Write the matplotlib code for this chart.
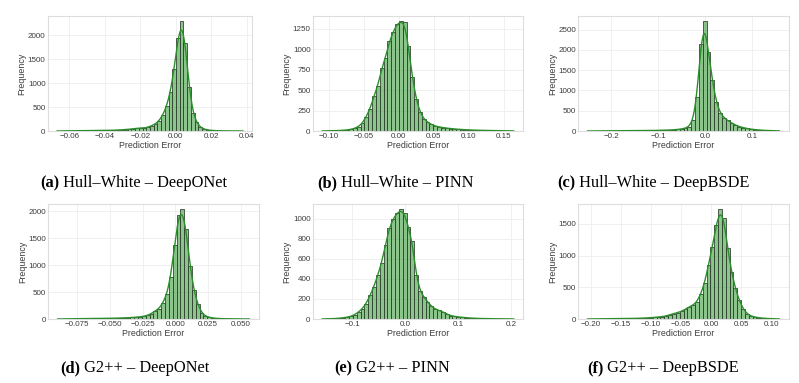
import numpy as np
import matplotlib
matplotlib.use("Agg")
import matplotlib.pyplot as plt

# ---------------- data (bin ranges + counts) ----------------
a_range = (-0.067, 0.038)
a_counts = [1, 2, 2, 3, 3, 4, 4, 5, 6, 7, 8, 9, 10, 12, 14, 17, 20, 25, 30, 38,
            45, 55, 65, 60, 80, 112, 148, 218, 338, 520, 816, 1290, 1945, 2283, 1839,
            922, 380, 183, 77, 40, 22, 12, 7, 5, 3, 2, 2, 1, 1, 1]
a_xticks = [-0.06, -0.04, -0.02, 0.00, 0.02, 0.04]
a_yticks = [0, 500, 1000, 1500, 2000]

b_range = (-0.1095, 0.164)
b_counts = [1, 2, 3, 4, 6, 9, 13, 20, 33, 54, 95, 177, 272, 425, 549, 767, 891, 1097,
            1209, 1310, 1340, 1330, 1040, 660, 390, 230, 150, 105, 80, 60, 50, 42, 35,
            30, 25, 21, 18, 15, 13, 11, 9, 8, 7, 6, 5, 4, 3, 3, 2, 2]
b_xticks = [-0.10, -0.05, 0.00, 0.05, 0.10, 0.15]
b_yticks = [0, 250, 500, 750, 1000, 1250]

c_range = (-0.25, 0.158)
c_counts = [1, 1, 2, 2, 2, 3, 3, 4, 5, 5, 6, 7, 8, 9, 10, 11, 12, 14, 16, 18,
            21, 25, 30, 38, 50, 70, 110, 260, 830, 2150, 2700, 1950, 1250, 720, 450,
            330, 260, 200, 150, 110, 85, 62, 46, 35, 26, 19, 14, 10, 7, 5]
c_xticks = [-0.2, -0.1, 0.0, 0.1]
c_yticks = [0, 500, 1000, 1500, 2000, 2500]

d_range = (-0.090, 0.0565)
d_counts = [1, 2, 2, 3, 4, 4, 5, 6, 7, 8, 9, 10, 11, 12, 14, 16, 18, 21, 24, 28,
            33, 40, 50, 69, 100, 156, 193, 305, 455, 785, 1377, 1925, 2032, 1676, 984,
            536, 274, 118, 56, 31, 18, 11, 7, 5, 4, 3, 2, 2, 1, 1]
d_xticks = [-0.075, -0.050, -0.025, 0.000, 0.025, 0.050]
d_yticks = [0, 500, 1000, 1500, 2000]

e_range = (-0.157, 0.205)
e_counts = [1, 2, 3, 5, 8, 12, 18, 27, 43, 70, 104, 154, 237, 321, 438, 555, 739, 906,
            1000, 1050, 1090, 1050, 913, 773, 438, 278, 221, 171, 127, 97, 87, 70, 50,
            33, 27, 20, 17, 13, 10, 8, 6, 5, 4, 3, 3, 2, 2, 1, 1, 1]
e_xticks = [-0.1, 0.0, 0.1, 0.2]
e_yticks = [0, 200, 400, 600, 800, 1000]

f_range = (-0.2057, 0.114)
f_counts = [1, 1, 2, 2, 3, 3, 4, 5, 6, 7, 8, 9, 10, 12, 14, 17, 21, 26, 32, 37,
            48, 69, 85, 101, 122, 154, 191, 217, 270, 392, 562, 853, 1129, 1478, 1728,
            1600, 1118, 747, 482, 297, 164, 85, 48, 32, 21, 14, 9, 6, 4, 2]
f_xticks = [-0.20, -0.15, -0.10, -0.05, 0.00, 0.05, 0.10]
f_yticks = [0, 500, 1000, 1500]

captions = [("(a)", "Hull\u2013White \u2013 DeepONet"),
            ("(b)", "Hull\u2013White \u2013 PINN"),
            ("(c)", "Hull\u2013White \u2013 DeepBSDE"),
            ("(d)", "G2++ \u2013 DeepONet"),
            ("(e)", "G2++ \u2013 PINN"),
            ("(f)", "G2++ \u2013 DeepBSDE")]

# ---------------- layout ----------------
W, H = 799, 383
fig = plt.figure(figsize=(W / 100, H / 100), dpi=100)

# pixel boxes: left, top, right, bottom
boxes = [(47.7, 16, 252.3, 131), (312.7, 16, 523.3, 131), (578, 16, 789, 131),
         (48, 204, 259, 319), (312.7, 204, 523.3, 319), (578, 204, 789, 319)]
tick_fmt = ["{:.2f}", "{:.2f}", "{:.1f}", "{:.3f}", "{:.1f}", "{:.2f}"]
cap_pos = [(40, 183), (317, 183), (557, 183), (60, 368), (334, 368), (587, 368)]

panels = [(a_range, a_counts, a_xticks, a_yticks),
          (b_range, b_counts, b_xticks, b_yticks),
          (c_range, c_counts, c_xticks, c_yticks),
          (d_range, d_counts, d_xticks, d_yticks),
          (e_range, e_counts, e_xticks, e_yticks),
          (f_range, f_counts, f_xticks, f_yticks)]

txt_col = "#3c3c3c"
sans = ["Liberation Sans", "DejaVu Sans"]
serif = ["Liberation Serif", "DejaVu Serif"]

for i, ((lo, hi), counts, xt, yt) in enumerate(panels):
    l, t, r, b = boxes[i]
    ax = fig.add_axes([l / W, 1 - b / H, (r - l) / W, (b - t) / H])
    counts = np.asarray(counts, dtype=float)
    edges = np.linspace(lo, hi, len(counts) + 1)
    centers = 0.5 * (edges[:-1] + edges[1:])
    bw = edges[1] - edges[0]
    ax.hist(centers, bins=edges, weights=counts, facecolor=(0.0, 0.5, 0.0, 0.45),
            edgecolor="#354535", linewidth=0.6, zorder=2)
    # kernel smoothed curve of the binned counts
    xs = np.linspace(lo, hi, 400)
    h = 0.7 * bw
    kern = np.exp(-0.5 * ((xs[:, None] - centers[None, :]) / h) ** 2) / (h * np.sqrt(2 * np.pi))
    dens = (kern * counts[None, :]).sum(axis=1) * bw
    ax.plot(xs, dens, color="#2a8f2a", lw=1.0, zorder=3)

    span = hi - lo
    ax.set_xlim(lo - 0.05 * span, hi + 0.05 * span)
    ax.set_ylim(0, counts.max() * 1.05)
    ax.set_xticks(xt)
    ax.set_xticklabels([tick_fmt[i].format(v).replace("-", "\u2212") for v in xt],
                       fontsize=5.8, color=txt_col, family=sans)
    ax.set_yticks(yt)
    ax.set_yticklabels([str(v) for v in yt], fontsize=5.8, color=txt_col, family=sans)
    ax.tick_params(length=0, pad=1.5)
    ax.grid(True, color="#eeeeee", lw=0.6, zorder=0)
    ax.set_axisbelow(True)
    for s in ax.spines.values():
        s.set_color("#dddddd")
        s.set_linewidth(0.8)
    ax.set_xlabel("Prediction Error", fontsize=6.4, color=txt_col, family=sans, labelpad=1)
    ax.set_ylabel("Frequency", fontsize=6.4, color=txt_col, family=sans, labelpad=1)

    lab, rest = captions[i]
    cx, cy = cap_pos[i]
    t1 = fig.text(cx / W, 1 - cy / H, lab, fontsize=11.8, fontweight="bold",
                  family=serif, ha="left", va="center")
    fig.add_artist(matplotlib.text.Annotation(
        " " + rest, xy=(1, 0), xycoords=t1, xytext=(0, 0), textcoords="offset points",
        fontsize=11.8, family=serif, ha="left", va="bottom", annotation_clip=False))

fig.savefig("out.png", dpi=100, facecolor="white")
